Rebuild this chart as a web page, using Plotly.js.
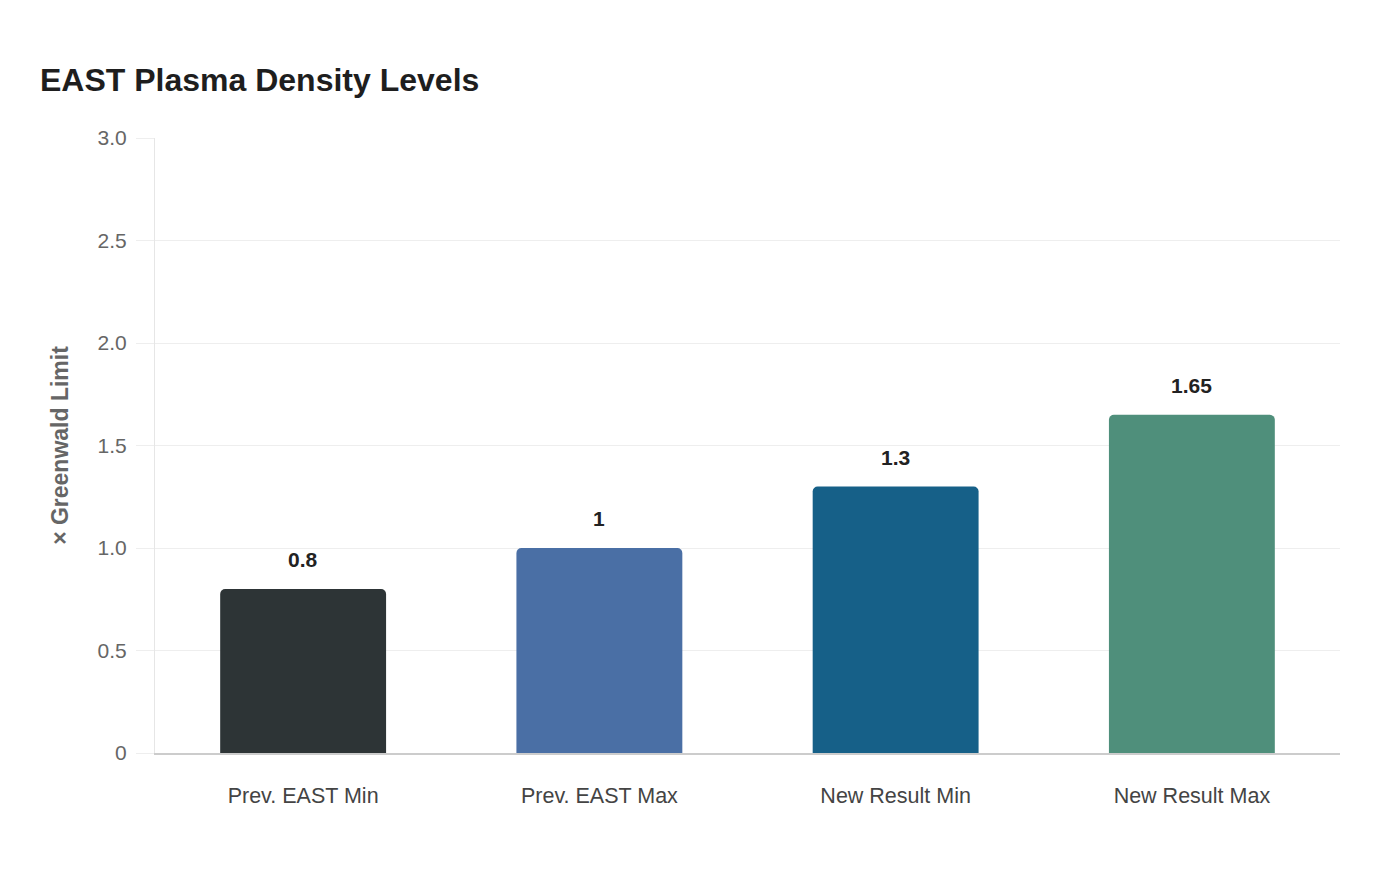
<!DOCTYPE html>
<html>
<head>
<meta charset="utf-8">
<script src="https://cdn.plot.ly/plotly-3.0.1.min.js"></script>
<style>
  html, body { margin: 0; padding: 0; background: #fff; }
  #plot { width: 1400px; height: 880px; }
</style>
</head>
<body>
<div id="plot"></div>
<script>
// data
const categories = ['Prev. EAST Min', 'Prev. EAST Max', 'New Result Min', 'New Result Max'];
const densities = [0.8, 1, 1.3, 1.65];
const barColors = ['#2d3436', '#4a6fa5', '#166088', '#4f8f7b'];
const yTickVals = [0, 0.5, 1, 1.5, 2, 2.5, 3];
const yTickText = ['0', '0.5', '1.0', '1.5', '2.0', '2.5', '3.0'];

const FONT = 'Liberation Sans, Arial, sans-serif';

let trace = {
  type: 'bar',
  x: categories,
  y: densities,
  marker: { color: barColors, line: { width: 0 } },
  hoverinfo: 'x+y'
};

// value labels above each bar
let labels = categories.map((c, i) => ({
  x: c,
  y: densities[i],
  text: '<b>' + densities[i] + '</b>',
  showarrow: false,
  yanchor: 'bottom',
  yshift: 16,
  font: { family: FONT, size: 21, color: '#222' }
}));

let layout = {
  width: 1400,
  height: 880,
  paper_bgcolor: '#fff',
  plot_bgcolor: '#fff',
  margin: { l: 155, r: 60, t: 138, b: 127 },
  font: { family: FONT },
  title: {
    text: '<b>EAST Plasma Density Levels</b>',
    x: 0, xref: 'paper', xanchor: 'left',
    y: 0.909, yref: 'container', yanchor: 'middle',
    font: { family: FONT, size: 32, color: '#1e1e1e' },
    pad: { l: -115 }
  },
  bargap: 0.44,
  barcornerradius: 5,
  showlegend: false,
  xaxis: {
    tickfont: { family: FONT, size: 21.5, color: '#444' },
    ticks: '',
    ticklabelstandoff: 22,
    showline: true,
    linecolor: '#ccc',
    linewidth: 2,
    fixedrange: true
  },
  yaxis: {
    range: [0, 3],
    tickvals: yTickVals,
    ticktext: yTickText,
    tickfont: { family: FONT, size: 21, color: '#666' },
    ticks: 'outside',
    ticklen: 18,
    tickcolor: '#eee',
    ticklabelstandoff: 5,
    gridcolor: '#eee',
    gridwidth: 1,
    showline: true,
    linecolor: '#e6e6e6',
    zeroline: false,
    title: {
      text: '<b>× Greenwald Limit</b>',
      font: { family: FONT, size: 23, color: '#666' },
      standoff: 22
    },
    fixedrange: true
  },
  annotations: labels
};

Plotly.newPlot('plot', [trace], layout, { displayModeBar: false, staticPlot: true });
</script>
</body>
</html>
